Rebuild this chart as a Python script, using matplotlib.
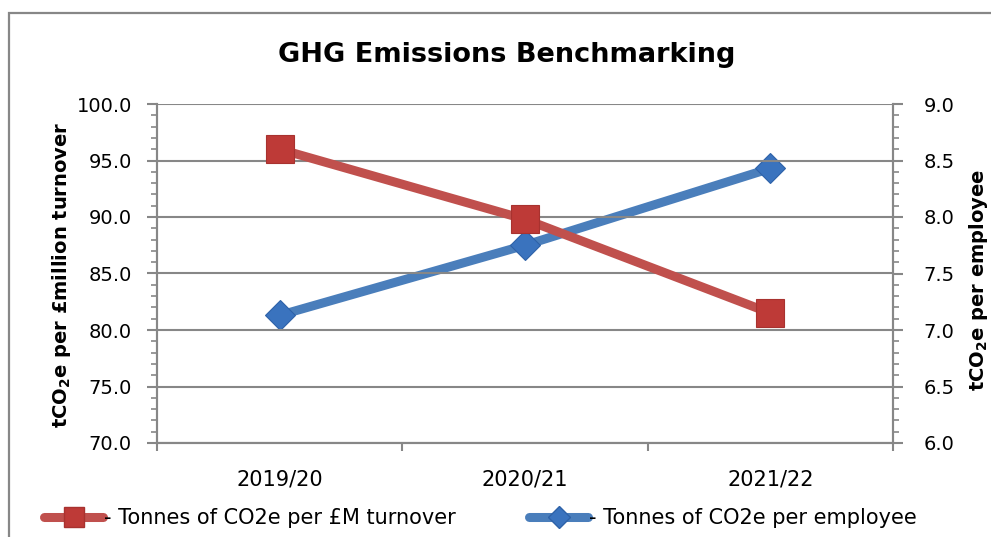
import matplotlib.pyplot as plt
from matplotlib.patches import Rectangle
from matplotlib.lines import Line2D
from matplotlib.ticker import MultipleLocator

# data
years = ['2019/20', '2020/21', '2021/22']
per_turnover = [96.0, 89.8, 81.5]     # tCO2e per £million turnover (left axis)
per_employee = [7.13, 7.75, 8.43]     # tCO2e per employee (right axis)

red_line = '#C0504D'
red_mark = '#BE3A37'
blue_line = '#4A7EBB'
blue_mark = '#3A73BE'
grey = '#878787'

plt.rcParams['font.family'] = ['DejaVu Sans']
plt.rcParams['mathtext.fontset'] = 'dejavusans'

fig = plt.figure(figsize=(9.91, 5.37), dpi=100)
L, R, B, T = 157 / 991, 893 / 991, 1 - 443 / 537, 1 - 104 / 537
ax = fig.add_axes([L, B, R - L, T - B])
ax2 = ax.twinx()

x = range(len(years))

# outer chart frame (cut off at right and bottom like the reference)
fig.patches.append(Rectangle((9 / 991, -0.05), 1.0, 1 - 13 / 537 + 0.05,
                             transform=fig.transFigure, fill=False,
                             edgecolor=grey, linewidth=1.6, clip_on=False))

ax.plot(x, per_turnover, color=red_line, lw=6.5, marker='s', ms=20,
        mfc=red_mark, mec='#A8322F', mew=0.8, zorder=3,
        solid_capstyle='round')
ax2.plot(x, per_employee, color=blue_line, lw=6.5, marker='D', ms=15.5,
         mfc=blue_mark, mec='#2E62A8', mew=0.8, zorder=3,
         solid_capstyle='round')

ax.set_zorder(ax2.get_zorder() + 1)
ax.patch.set_visible(False)

ax.set_xlim(-0.5, 2.5)
ax.set_ylim(70, 100)
ax2.set_ylim(6, 9)

ax.yaxis.set_major_locator(MultipleLocator(5))
ax.yaxis.set_minor_locator(MultipleLocator(1))
ax2.yaxis.set_major_locator(MultipleLocator(0.5))
ax2.yaxis.set_minor_locator(MultipleLocator(0.1))
ax.yaxis.set_major_formatter(lambda v, p: f'{v:.1f}')
ax2.yaxis.set_major_formatter(lambda v, p: f'{v:.1f}')

ax.set_xticks(list(x))
ax.set_xticklabels(years)
ax.set_xticks([-0.5, 0.5, 1.5, 2.5], minor=True)
ax.tick_params(axis='x', which='major', length=0, pad=19, labelsize=15)
ax.tick_params(axis='x', which='minor', length=6, width=1.5, color=grey)

for a, pad in ((ax, 11), (ax2, 15)):
    a.tick_params(axis='y', which='major', length=7, width=1.5, color=grey,
                  labelsize=14, pad=pad)
    a.tick_params(axis='y', which='minor', length=4, width=1.2, color=grey)
    for s in a.spines.values():
        s.set_color(grey)
        s.set_linewidth(1.5)
    a.spines['top'].set_visible(False)

ax.grid(axis='y', which='major', color=grey, lw=1.5)
ax.set_axisbelow(True)

ax.set_ylabel(r'tCO$_\mathbf{2}$e per £million turnover', fontsize=14,
              fontweight='bold')
ax2.set_ylabel(r'tCO$_\mathbf{2}$e per employee', fontsize=14,
               fontweight='bold')
ax.yaxis.set_label_coords((73 - 157) / 736, 0.496)
ax2.yaxis.set_label_coords((967 - 157) / 736, 0.48)

fig.text(507 / 991, 1 - 62 / 537, 'GHG Emissions Benchmarking', ha='center',
         va='baseline', fontsize=19.5, fontweight='bold')

h_red = Line2D([], [], color=red_line, lw=6.5, marker='s', ms=15,
               mfc=red_mark, mec='#A8322F', solid_capstyle='round')
h_blue = Line2D([], [], color=blue_line, lw=6.5, marker='D', ms=11,
                mfc=blue_mark, mec='#2E62A8', solid_capstyle='round')
leg_kw = dict(loc='center left', frameon=False, fontsize=15, borderpad=0,
              handlelength=2.8, handletextpad=0.05)
fig.legend([h_red], ['- Tonnes of CO2e per £M turnover'],
           bbox_to_anchor=(34 / 991, 1 - 518 / 537), **leg_kw)
fig.legend([h_blue], ['- Tonnes of CO2e per employee'],
           bbox_to_anchor=(519 / 991, 1 - 518 / 537), **leg_kw)

fig.savefig('out.png', dpi=100)
